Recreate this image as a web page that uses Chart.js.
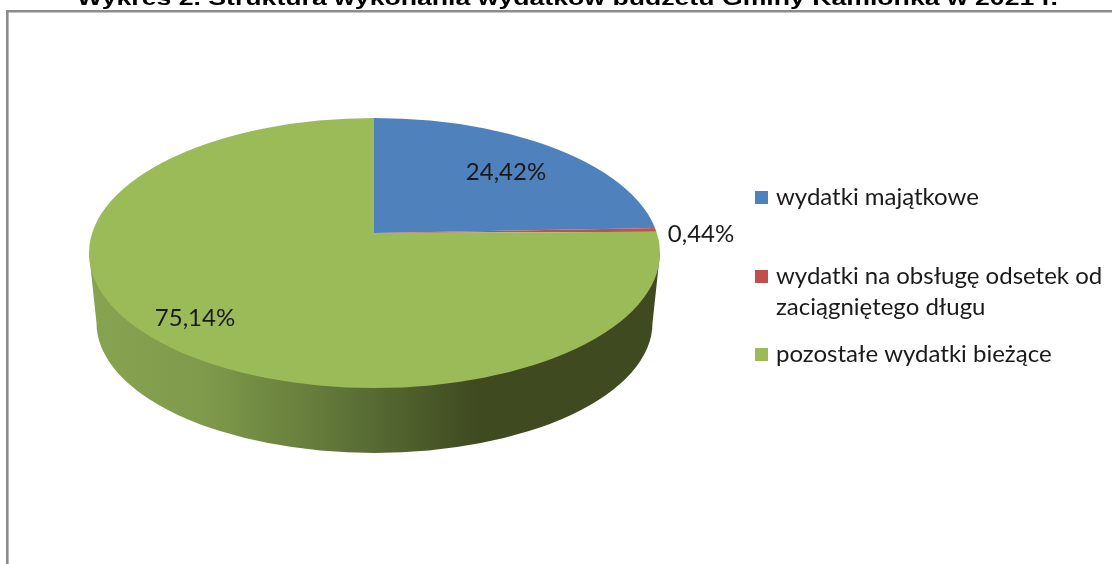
<!DOCTYPE html>
<html lang="pl"><head><meta charset="utf-8">
<script src="https://cdn.jsdelivr.net/npm/chart.js@4"></script>
<style>html,body{margin:0;padding:0;background:#fff;overflow:hidden}canvas{display:block}</style>
</head><body><canvas id="c" width="1112" height="564"></canvas>
<script>
const chartTitle = 'Wykres 2. Struktura wykonania wydatków budżetu Gminy Kamionka w 2021 r.';
const categories = ['wydatki majątkowe', 'wydatki na obsługę odsetek od zaciągniętego długu', 'pozostałe wydatki bieżące'];
const legendLines = [['wydatki majątkowe'], ['wydatki na obsługę odsetek od', 'zaciągniętego długu'], ['pozostałe wydatki bieżące']];
const shares = [24.42, 0.44, 75.14];
const colors = ['#4F81BD', '#C0504D', '#9BBB59'];

const APEX = {x: 374, y: 233}, TOP = {x: 374.5, y: 253, rx: 285.5, ry: 135}, BOT = {x: 374.5, y: 323, rx: 278, ry: 130};
const labelPos = [[506, 172], [701, 234], [195, 318]];
const legendY = [[205], [284, 315], [362]];
const LABEL_FONT = '24px Lato, Carlito, sans-serif';

const pie3d = {
  id: 'pie3d',
  beforeDraw(chart) {
    const c = chart.ctx;
    c.save();
    c.fillStyle = '#fff'; c.fillRect(0, 0, chart.width, chart.height);
    c.strokeStyle = '#8C8C8C'; c.lineWidth = 2.6;
    c.beginPath(); c.moveTo(7.3, 564); c.lineTo(7.3, 11.3); c.lineTo(1112, 11.3); c.stroke();
    c.font = 'bold 21px "Liberation Sans", Arial, sans-serif';
    c.fillStyle = '#000'; c.textAlign = 'center'; c.textBaseline = 'alphabetic';
    c.translate(567.5, 5.3);
    c.scale(981 / c.measureText(chartTitle).width, 1);
    c.fillText(chartTitle, 0, 0);
    c.restore();
  },
  beforeDatasetsDraw(chart) {
    const c = chart.ctx;
    c.save();
    const g = c.createLinearGradient(TOP.x - TOP.rx, 0, TOP.x + TOP.rx, 0);
    g.addColorStop(0, '#88A350');
    g.addColorStop(0.2, '#7F9A4B');
    g.addColorStop(0.38, '#687F3D');
    g.addColorStop(0.5, '#566A32');
    g.addColorStop(0.68, '#3F4A20');
    g.addColorStop(1, '#3F4A20');
    c.fillStyle = g;
    c.beginPath();
    c.moveTo(TOP.x - TOP.rx, TOP.y);
    c.lineTo(BOT.x - BOT.rx, BOT.y);
    c.ellipse(BOT.x, BOT.y, BOT.rx, BOT.ry, 0, Math.PI, 0, true);
    c.lineTo(TOP.x + TOP.rx, TOP.y);
    c.closePath();
    c.fill();
    c.save();
    c.beginPath();
    c.ellipse(TOP.x, TOP.y, TOP.rx, TOP.ry, 0, 0, Math.PI * 2);
    c.clip();
    c.translate(APEX.x, APEX.y);
    c.scale(1, TOP.ry / TOP.rx);
    c.translate(-APEX.x, -APEX.y);
  },
  afterDatasetsDraw(chart) {
    const c = chart.ctx;
    c.restore();
    c.restore();
    c.save();
    c.font = LABEL_FONT;
    c.fillStyle = '#1a1a1a';
    c.textAlign = 'center'; c.textBaseline = 'middle';
    shares.forEach((v, i) => c.fillText(v.toFixed(2).replace('.', ',') + '%', labelPos[i][0], labelPos[i][1]));
    c.textAlign = 'left'; c.textBaseline = 'alphabetic';
    legendLines.forEach((lines, i) => {
      c.fillStyle = colors[i];
      c.fillRect(755, legendY[i][0] - 14, 13, 13);
      c.fillStyle = '#1a1a1a';
      lines.forEach((t, j) => c.fillText(t, 776, legendY[i][j]));
    });
    c.restore();
  }
};

new Chart(document.getElementById('c'), {
  type: 'pie',
  data: { labels: categories, datasets: [{ data: shares, backgroundColor: colors, borderWidth: 0, radius: 700, clip: false }] },
  options: {
    responsive: false, animation: false,
    layout: { padding: { left: 0, top: 0, right: 1112 - 2 * APEX.x, bottom: 564 - 2 * APEX.y } },
    plugins: { legend: { display: false }, title: { display: false }, tooltip: { enabled: false } }
  },
  plugins: [pie3d]
});
</script></body></html>
